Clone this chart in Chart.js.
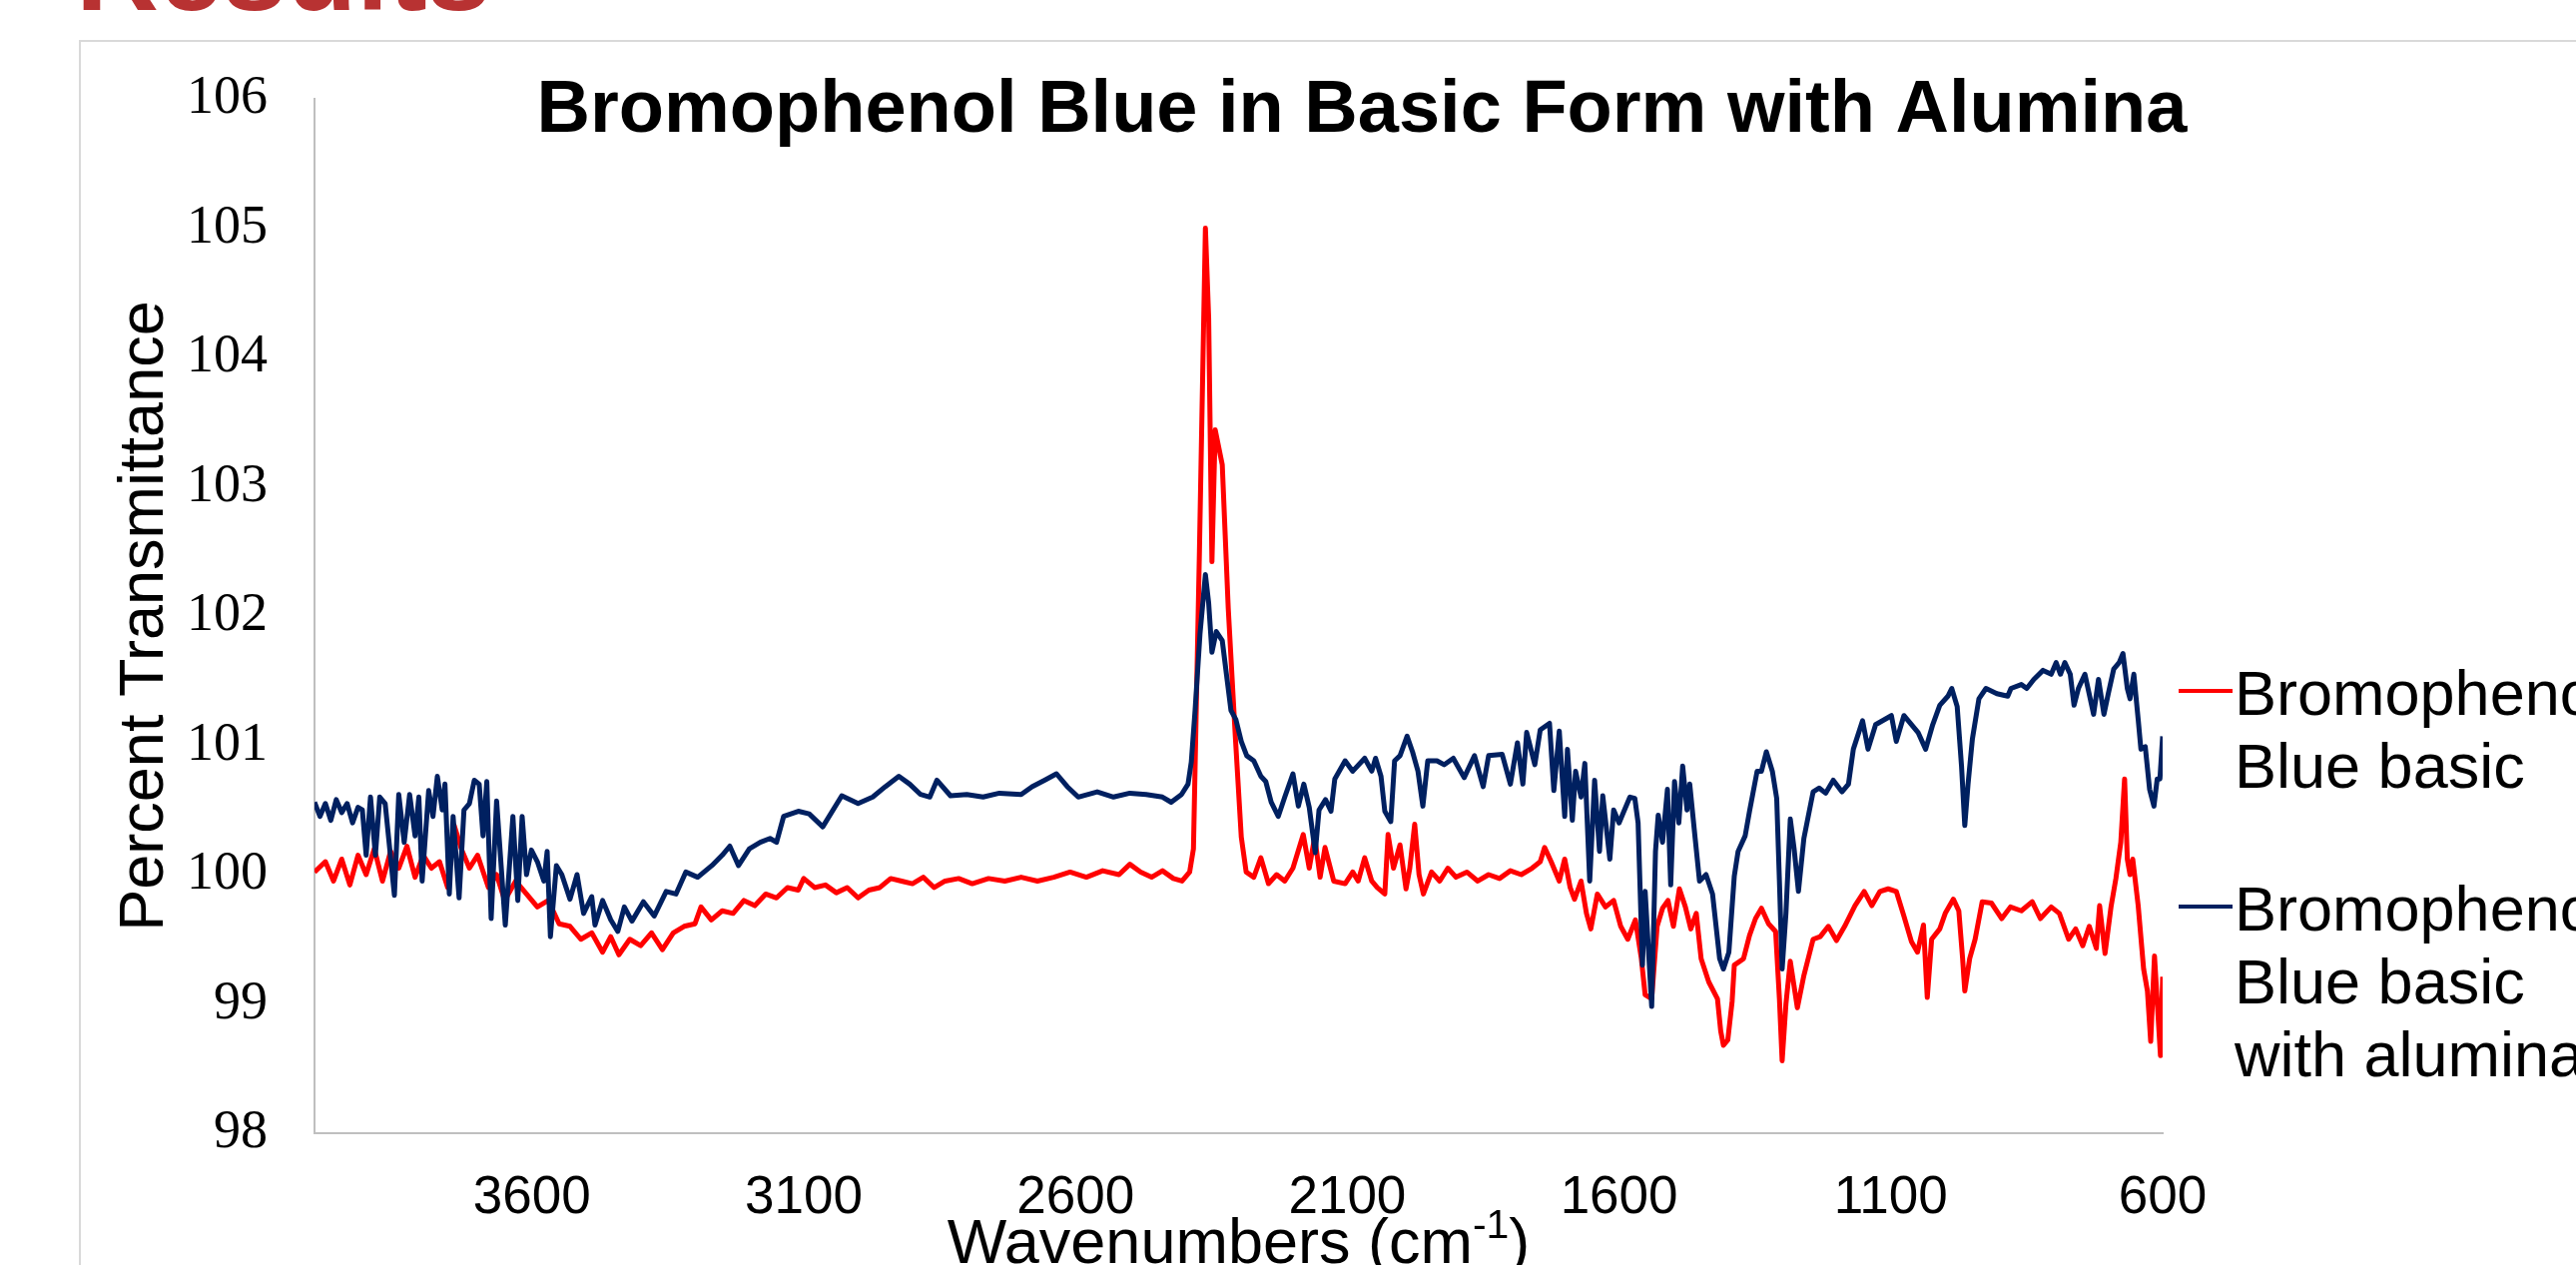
<!DOCTYPE html>
<html>
<head>
<meta charset="utf-8">
<title>Bromophenol Blue in Basic Form with Alumina</title>
<script src="https://cdn.jsdelivr.net/npm/chart.js@4.4.1/dist/chart.umd.min.js"></script>
<style>
html, body { margin: 0; padding: 0; background: #ffffff; overflow: hidden; }
#wrap { position: relative; width: 2580px; height: 1267px; overflow: hidden; }
#frame { position: absolute; left: 79px; top: 40px; width: 2700px; height: 1400px; border-left: 2px solid #d9d9d9; border-top: 2px solid #d9d9d9; }
#heading { position: absolute; left: 76px; top: -87px; margin: 0; font: bold 115px "Liberation Sans", Arial, sans-serif; line-height: 115px; color: #b83232; white-space: nowrap; }
#chart { position: absolute; left: 0; top: 0; }
</style>
</head>
<body>
<div id="wrap">
  <div id="frame"></div>
  <h1 id="heading">Results</h1>
  <canvas id="chart" width="2580" height="1267"></canvas>
</div>
<script>
var chartTitle = "Bromophenol Blue in Basic Form with Alumina";
var yTitle = "Percent Transmittance";
var xTitle = ["Wavenumbers (cm", "-1", ")"];
var xTickValues = [600, 1100, 1600, 2100, 2600, 3100, 3600];
var yTickValues = [98, 99, 100, 101, 102, 103, 104, 105, 106];
var seriesLabels = ["Bromophenol Blue basic", "Bromophenol Blue basic with alumina"];

// [wavenumber, % transmittance]
var basicPoints = [
  [4000,100.02],[3980,100.1],[3965,99.95],[3950,100.12],[3935,99.92],[3920,100.15],[3905,100.0],[3890,100.2],[3875,99.95],[3860,100.18],
  [3845,100.05],[3830,100.22],[3815,99.98],[3800,100.15],[3785,100.05],[3770,100.1],[3755,99.9],[3743,100.38],[3730,100.2],[3715,100.05],
  [3700,100.15],[3680,99.9],[3665,100.0],[3650,99.8],[3630,99.95],[3610,99.85],[3590,99.75],[3570,99.8],[3550,99.62],[3530,99.6],
  [3510,99.5],[3490,99.55],[3470,99.4],[3455,99.52],[3440,99.38],[3420,99.5],[3400,99.45],[3380,99.55],[3360,99.42],[3340,99.55],
  [3320,99.6],[3300,99.62],[3289,99.75],[3270,99.65],[3250,99.72],[3230,99.7],[3210,99.8],[3190,99.76],[3170,99.85],[3150,99.82],
  [3130,99.9],[3110,99.88],[3100,99.97],[3080,99.9],[3060,99.92],[3040,99.86],[3020,99.9],[3000,99.82],[2980,99.88],[2960,99.9],
  [2940,99.97],[2920,99.95],[2900,99.93],[2880,99.98],[2860,99.9],[2840,99.95],[2815,99.97],[2790,99.93],[2760,99.97],[2730,99.95],
  [2700,99.98],[2670,99.95],[2640,99.98],[2610,100.02],[2580,99.98],[2550,100.03],[2520,100.0],[2500,100.08],[2480,100.02],[2460,99.98],
  [2440,100.03],[2420,99.97],[2404,99.95],[2390,100.02],[2383,100.2],[2372,102.5],[2361,105.0],[2355,104.3],[2349,102.42],[2343,103.44],
  [2330,103.17],[2319,102.06],[2306,101.07],[2295,100.29],[2286,100.02],[2272,99.98],[2259,100.13],[2245,99.93],[2230,100.0],[2215,99.95],
  [2200,100.05],[2181,100.31],[2170,100.05],[2160,100.29],[2150,99.98],[2141,100.21],[2125,99.95],[2104,99.93],[2090,100.02],[2080,99.95],
  [2068,100.13],[2055,99.95],[2045,99.9],[2031,99.85],[2025,100.31],[2015,100.05],[2003,100.23],[1992,99.89],[1985,100.05],[1976,100.39],
  [1968,100.0],[1960,99.85],[1945,100.02],[1930,99.95],[1915,100.05],[1900,99.98],[1880,100.02],[1860,99.95],[1840,100.0],[1820,99.97],
  [1800,100.03],[1780,100.0],[1760,100.05],[1745,100.1],[1737,100.21],[1725,100.1],[1710,99.95],[1700,100.12],[1690,99.9],[1682,99.81],
  [1670,99.95],[1660,99.7],[1652,99.58],[1640,99.85],[1625,99.75],[1610,99.8],[1597,99.6],[1584,99.5],[1570,99.65],[1559,99.35],
  [1552,99.07],[1540,99.04],[1530,99.6],[1520,99.74],[1510,99.8],[1500,99.6],[1489,99.89],[1478,99.75],[1468,99.58],[1458,99.7],
  [1449,99.35],[1435,99.17],[1419,99.04],[1413,98.79],[1408,98.68],[1400,98.72],[1392,99.02],[1388,99.3],[1371,99.35],[1360,99.53],
  [1349,99.66],[1338,99.74],[1325,99.62],[1312,99.56],[1305,99.04],[1300,98.56],[1293,99.0],[1285,99.33],[1272,98.97],[1260,99.22],
  [1243,99.5],[1230,99.52],[1215,99.6],[1200,99.49],[1185,99.6],[1166,99.76],[1149,99.87],[1135,99.76],[1120,99.87],[1105,99.89],
  [1090,99.87],[1076,99.68],[1062,99.48],[1051,99.4],[1040,99.61],[1033,99.05],[1025,99.5],[1010,99.58],[1000,99.7],[985,99.81],
  [975,99.72],[968,99.35],[964,99.1],[955,99.35],[945,99.5],[932,99.79],[915,99.78],[896,99.66],[880,99.75],[860,99.72],
  [840,99.79],[825,99.66],[805,99.75],[790,99.7],[773,99.5],[760,99.58],[747,99.45],[735,99.6],[722,99.43],[716,99.76],
  [706,99.39],[695,99.75],[686,99.97],[677,100.25],[670,100.74],[665,100.12],[660,100.0],[655,100.12],[645,99.76],[635,99.27],
  [628,99.1],[622,98.71],[615,99.37],[604,98.6],[600,99.21]
];

var aluminaPoints = [
  [4000,100.56],[3990,100.45],[3980,100.55],[3970,100.42],[3960,100.58],[3950,100.48],[3940,100.55],[3930,100.4],[3920,100.52],[3912,100.5],
  [3905,100.15],[3897,100.6],[3888,100.15],[3880,100.6],[3870,100.55],[3853,99.84],[3845,100.62],[3835,100.25],[3825,100.62],[3815,100.3],
  [3808,100.6],[3802,99.95],[3790,100.65],[3782,100.45],[3774,100.76],[3765,100.5],[3760,100.7],[3752,99.85],[3745,100.45],[3734,99.82],
  [3725,100.5],[3715,100.55],[3706,100.73],[3697,100.7],[3690,100.3],[3683,100.72],[3675,99.66],[3665,100.57],[3649,99.61],[3635,100.45],
  [3626,99.8],[3618,100.45],[3610,100.0],[3601,100.19],[3590,100.1],[3578,99.95],[3572,100.18],[3566,99.52],[3555,100.07],[3545,100.0],
  [3530,99.81],[3517,100.0],[3505,99.7],[3490,99.83],[3484,99.61],[3470,99.8],[3455,99.65],[3442,99.56],[3430,99.75],[3416,99.64],
  [3395,99.79],[3375,99.68],[3353,99.87],[3335,99.85],[3317,100.02],[3295,99.98],[3269,100.07],[3250,100.15],[3236,100.22],[3220,100.07],
  [3200,100.2],[3180,100.25],[3162,100.28],[3150,100.25],[3137,100.45],[3110,100.49],[3090,100.47],[3065,100.37],[3030,100.61],[3000,100.55],
  [2973,100.6],[2950,100.68],[2925,100.76],[2905,100.7],[2885,100.62],[2868,100.6],[2855,100.73],[2830,100.61],[2800,100.62],[2770,100.6],
  [2740,100.63],[2700,100.62],[2680,100.68],[2657,100.73],[2635,100.78],[2615,100.68],[2595,100.6],[2560,100.64],[2530,100.6],[2500,100.63],
  [2470,100.62],[2440,100.6],[2424,100.56],[2405,100.62],[2393,100.7],[2387,100.87],[2380,101.27],[2371,101.86],[2361,102.32],[2355,102.1],
  [2349,101.72],[2341,101.88],[2330,101.81],[2322,101.54],[2314,101.27],[2305,101.2],[2295,101.03],[2285,100.92],[2272,100.88],[2259,100.76],
  [2250,100.72],[2240,100.56],[2227,100.45],[2215,100.6],[2200,100.78],[2190,100.53],[2180,100.7],[2170,100.52],[2159,100.17],[2152,100.5],
  [2140,100.58],[2130,100.49],[2123,100.74],[2104,100.88],[2090,100.8],[2068,100.9],[2055,100.8],[2048,100.9],[2038,100.76],[2031,100.49],
  [2020,100.41],[2013,100.88],[2003,100.92],[1990,101.07],[1980,100.95],[1970,100.8],[1961,100.53],[1952,100.88],[1935,100.88],[1922,100.85],
  [1905,100.9],[1885,100.75],[1866,100.92],[1850,100.68],[1840,100.92],[1815,100.93],[1800,100.7],[1787,101.02],[1777,100.7],[1770,101.1],
  [1755,100.85],[1745,101.12],[1728,101.17],[1720,100.65],[1710,101.11],[1700,100.45],[1695,100.97],[1686,100.42],[1680,100.8],[1670,100.6],
  [1663,100.86],[1654,99.95],[1645,100.73],[1636,100.18],[1630,100.61],[1617,100.12],[1610,100.5],[1600,100.4],[1592,100.48],[1580,100.6],
  [1571,100.59],[1565,100.4],[1557,99.3],[1552,99.87],[1540,98.98],[1533,100.18],[1528,100.46],[1520,100.25],[1511,100.66],[1505,99.92],
  [1498,100.72],[1490,100.4],[1483,100.84],[1475,100.5],[1470,100.7],[1460,100.28],[1452,99.95],[1440,100.0],[1428,99.85],[1415,99.35],
  [1408,99.27],[1398,99.4],[1388,99.99],[1381,100.18],[1368,100.3],[1360,100.49],[1346,100.8],[1338,100.8],[1329,100.95],[1318,100.8],
  [1310,100.59],[1305,99.95],[1300,99.27],[1293,99.7],[1285,100.43],[1278,100.2],[1270,99.87],[1260,100.28],[1252,100.45],[1243,100.64],
  [1232,100.67],[1220,100.63],[1206,100.73],[1190,100.64],[1178,100.7],[1169,100.97],[1152,101.19],[1142,100.97],[1128,101.16],[1099,101.23],
  [1090,101.03],[1076,101.23],[1050,101.1],[1036,100.97],[1023,101.16],[1010,101.31],[995,101.38],[988,101.44],[978,101.3],[970,100.84],
  [964,100.38],[958,100.7],[950,101.05],[938,101.36],[925,101.44],[905,101.4],[885,101.38],[879,101.44],[860,101.47],[850,101.44],
  [837,101.51],[820,101.58],[805,101.55],[796,101.64],[788,101.55],[780,101.64],[770,101.55],[763,101.31],[755,101.44],[743,101.55],
  [727,101.24],[718,101.51],[708,101.24],[700,101.4],[690,101.59],[680,101.64],[673,101.71],[665,101.44],[660,101.36],[653,101.55],
  [645,101.2],[640,100.97],[632,100.99],[624,100.66],[616,100.53],[610,100.74],[605,100.74],[600,101.07]
];

var toPoints = function( pairs ){
    return pairs.map(function( p ){ return { x: p[0], y: p[1] }; });
};

// wrap a legend label the way the original legend box does
var wrapText = function( c, text, maxWidth ){
    var words = text.split(" ");
    var lines = [];
    var line = "";
    words.forEach(function( word ){
        var test = line ? line + " " + word : word;
        if ( line && c.measureText( test ).width > maxWidth ){
            lines.push( line );
            line = word;
        } else {
            line = test;
        }
    });
    lines.push( line );
    return lines;
};

var overlayText = {
    id: "overlayText",
    afterDraw: function( chart ){
        var c = chart.ctx;
        var area = chart.chartArea;
        c.save();
        c.fillStyle = "#000000";
        c.textBaseline = "alphabetic";

        // title sits inside the plot, a bit right of centre
        c.font = "bold 74px 'Liberation Sans'";
        c.textAlign = "center";
        c.fillText( chartTitle, 1364, 132 );

        // x axis title with a superscript
        c.textAlign = "left";
        c.font = "63px 'Liberation Sans'";
        var w1 = c.measureText( xTitle[0] ).width;
        var w3 = c.measureText( xTitle[2] ).width;
        c.font = "41px 'Liberation Sans'";
        var w2 = c.measureText( xTitle[1] ).width;
        var x0 = ( area.left + area.right ) / 2 - ( w1 + w2 + w3 ) / 2;
        var base = 1265;
        c.font = "63px 'Liberation Sans'";
        c.fillText( xTitle[0], x0, base );
        c.font = "41px 'Liberation Sans'";
        c.fillText( xTitle[1], x0 + w1, base - 25 );
        c.font = "63px 'Liberation Sans'";
        c.fillText( xTitle[2], x0 + w1 + w2, base );

        // legend on the right, partly running off the page
        c.font = "63px 'Liberation Sans'";
        var y = 716;
        chart.data.datasets.forEach(function( ds ){
            var lines = wrapText( c, ds.label, 400 );
            c.strokeStyle = ds.borderColor;
            c.lineWidth = 4;
            c.beginPath();
            c.moveTo( area.right + 16, y - 24 );
            c.lineTo( area.right + 70, y - 24 );
            c.stroke();
            lines.forEach(function( l, i ){
                c.fillText( l, area.right + 72, y + i * 73 );
            });
            y += lines.length * 73 + 70;
        });
        c.restore();
    }
};

var ctx = document.getElementById("chart").getContext("2d");
var chart = new Chart(ctx, {
    type: "line",
    data: {
        datasets: [
            {
                label: seriesLabels[0],
                data: toPoints( basicPoints ),
                borderColor: "#ff0000",
                backgroundColor: "#ff0000",
                borderWidth: 5,
                borderJoinStyle: "round",
                pointRadius: 0,
                tension: 0,
                fill: false,
                order: 1
            },
            {
                label: seriesLabels[1],
                data: toPoints( aluminaPoints ),
                borderColor: "#002060",
                backgroundColor: "#002060",
                borderWidth: 5,
                borderJoinStyle: "round",
                pointRadius: 0,
                tension: 0,
                fill: false,
                order: 0
            }
        ]
    },
    options: {
        responsive: false,
        devicePixelRatio: 1,
        animation: false,
        layout: { padding: { left: 100, top: 99, right: 414, bottom: 0 } },
        plugins: {
            legend: { display: false },
            title: { display: false },
            tooltip: { enabled: false }
        },
        scales: {
            x: {
                type: "linear",
                min: 600,
                max: 4000,
                reverse: true,
                afterBuildTicks: function( scale ){
                    scale.ticks = xTickValues.map(function( v ){ return { value: v }; });
                },
                afterFit: function( scale ){ scale.height = 132; },
                grid: { display: false, drawTicks: false },
                border: { display: true, color: "#bfbfbf", width: 2 },
                ticks: {
                    color: "#000000",
                    padding: 34,
                    maxRotation: 0,
                    autoSkip: false,
                    font: { family: "'Liberation Sans'", size: 53 },
                    callback: function( v ){ return String( v ); }
                }
            },
            y: {
                type: "linear",
                min: 98,
                max: 106,
                afterBuildTicks: function( scale ){
                    scale.ticks = yTickValues.map(function( v ){ return { value: v }; });
                },
                afterFit: function( scale ){ scale.width = 215; },
                grid: { display: false, drawTicks: false },
                border: { display: true, color: "#bfbfbf", width: 2 },
                ticks: {
                    color: "#000000",
                    padding: 47,
                    font: { family: "'Liberation Serif'", size: 54 },
                    callback: function( v ){ return String( v ); }
                },
                title: {
                    display: true,
                    text: yTitle,
                    color: "#000000",
                    font: { family: "'Liberation Sans'", size: 63 },
                    padding: { top: 8, bottom: 0 }
                }
            }
        }
    },
    plugins: [ overlayText ]
});
</script>
</body>
</html>
